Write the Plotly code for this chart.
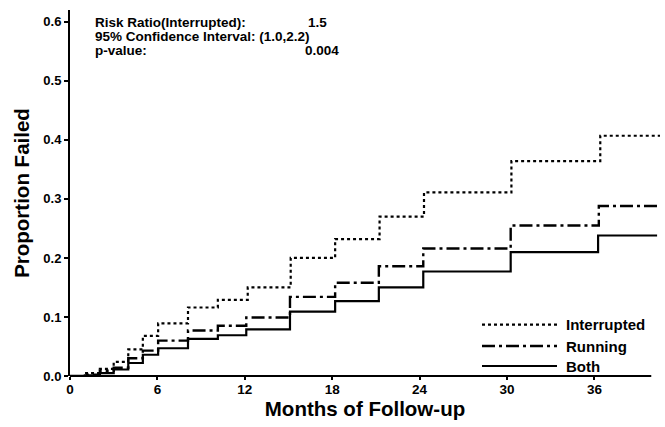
import plotly.graph_objects as go

# Step times (months) and cumulative proportion failed
months_interrupted = [0, 1.0, 2.05, 3.0, 4.0, 5.0, 6.05, 8.1, 10.15, 12.2, 15.15, 18.2, 21.25, 24.3, 30.3, 36.4, 40.5]
failed_interrupted = [0, 0.005, 0.012, 0.024, 0.045, 0.068, 0.089, 0.116, 0.129, 0.150, 0.200, 0.232, 0.270, 0.311, 0.364, 0.407, 0.407]

months_running = [0, 1.0, 2.05, 3.0, 4.0, 5.0, 6.05, 8.1, 10.15, 12.1, 15.1, 18.2, 21.2, 24.25, 30.25, 36.3, 40.4]
failed_running = [0, 0.002, 0.009, 0.014, 0.030, 0.043, 0.060, 0.077, 0.085, 0.099, 0.134, 0.158, 0.186, 0.216, 0.255, 0.288, 0.288]

months_both = [0, 1.0, 2.05, 3.0, 4.0, 5.0, 6.05, 8.1, 10.15, 12.1, 15.1, 18.2, 21.2, 24.25, 30.25, 36.25, 40.3]
failed_both = [0, 0.001, 0.005, 0.011, 0.022, 0.036, 0.047, 0.063, 0.069, 0.079, 0.109, 0.127, 0.150, 0.177, 0.210, 0.238, 0.238]

x_ticks = [0, 6, 12, 18, 24, 30, 36]
y_ticks = [0.0, 0.1, 0.2, 0.3, 0.4, 0.5, 0.6]
y_tick_labels = ["0.0", "0.1", "0.2", "0.3", "0.4", "0.5", "0.6"]

stats_labels = ["Risk Ratio(Interrupted):", "95% Confidence Interval: (1.0,2.2)", "p-value:"]
stats_values = ["1.5", "", "0.004"]

series_names = ["Interrupted", "Running", "Both"]

FONT = "Liberation Sans"
BLACK = "#000000"

styles = [
    dict(dash="dot", width=2.2),
    dict(dash="13px,4px,3px,4px", width=2.4),
    dict(dash="solid", width=2.2),
]

fig = go.Figure()
for xs, ys, name, st in zip(
    [months_interrupted, months_running, months_both],
    [failed_interrupted, failed_running, failed_both],
    series_names, styles,
):
    fig.add_trace(go.Scatter(
        x=xs, y=ys, mode="lines", name=name, line_shape="hv",
        line=dict(color=BLACK, width=st["width"], dash=st["dash"]),
        showlegend=False, hoverinfo="skip",
    ))

# plot area in pixels: left 70, right 660, top 10, bottom 376.5
L, R, T, B = 70, 660, 10, 376.5
W, H = 665, 427
pw, ph = R - L, B - T

def px(xp):
    return (xp - L) / pw

def py(yp):
    return (B - yp) / ph

shapes = []
annotations = []

# x-axis line
shapes.append(dict(type="line", xref="x", yref="paper", x0=0, x1=39.9, y0=0, y1=0,
                   line=dict(color=BLACK, width=2)))

# custom legend
leg_rows = [325, 346.5, 366.5]
for name, st, yr in zip(series_names, styles, leg_rows):
    shapes.append(dict(type="line", xref="paper", yref="paper",
                       x0=px(482), x1=px(557), y0=py(yr), y1=py(yr),
                       line=dict(color=BLACK, width=st["width"], dash=st["dash"])))
    annotations.append(dict(xref="paper", yref="paper", x=px(564), y=py(yr),
                            text="<b>" + name + "</b>", showarrow=False,
                            xanchor="left", yanchor="middle",
                            font=dict(family=FONT, size=15, color=BLACK)))

# statistics box
stat_rows = [22.7, 36.7, 50.7]
for lab, val, yr in zip(stats_labels, stats_values, stat_rows):
    annotations.append(dict(xref="paper", yref="paper", x=px(93), y=py(yr),
                            text="<b>" + lab + "</b>", showarrow=False,
                            xanchor="left", yanchor="middle",
                            font=dict(family=FONT, size=13.5, color=BLACK)))
    if val:
        annotations.append(dict(xref="paper", yref="paper", x=px(341 if len(val) > 3 else 329), y=py(yr),
                                text="<b>" + val + "</b>", showarrow=False,
                                xanchor="right", yanchor="middle",
                                font=dict(family=FONT, size=13.5, color=BLACK)))

fig.update_layout(
    width=W, height=H,
    margin=dict(l=L, r=W - R, t=T, b=H - B, autoexpand=False),
    paper_bgcolor="white", plot_bgcolor="white",
    shapes=shapes, annotations=annotations,
    font=dict(family=FONT, color=BLACK),
)
fig.update_xaxes(
    range=[0, 40.5], tickvals=x_ticks, ticktext=["<b>" + str(t) + "</b>" for t in x_ticks],
    showgrid=False, zeroline=False, showline=False, automargin=False,
    ticks="outside", ticklen=3, tickwidth=1.5, tickcolor=BLACK,
    ticklabelstandoff=-2,
    tickfont=dict(family=FONT, size=13.5, color=BLACK),
    title=dict(text="<b>Months of Follow-up</b>", standoff=3,
               font=dict(family=FONT, size=20.5, color=BLACK)),
)
fig.update_yaxes(
    range=[0, 0.62], tickvals=y_ticks, ticktext=["<b>" + t + "</b>" for t in y_tick_labels],
    showgrid=False, zeroline=False, showline=True, linecolor=BLACK, linewidth=2,
    automargin=False,
    ticks="outside", ticklen=4, tickwidth=1.5, tickcolor=BLACK,
    tickfont=dict(family=FONT, size=13, color=BLACK),
    title=dict(text="<b>Proportion Failed</b>", standoff=8,
               font=dict(family=FONT, size=20.5, color=BLACK)),
)

fig.write_html("out.html", post_script="document.body.style.margin='0';",
               config={"displayModeBar": False})
